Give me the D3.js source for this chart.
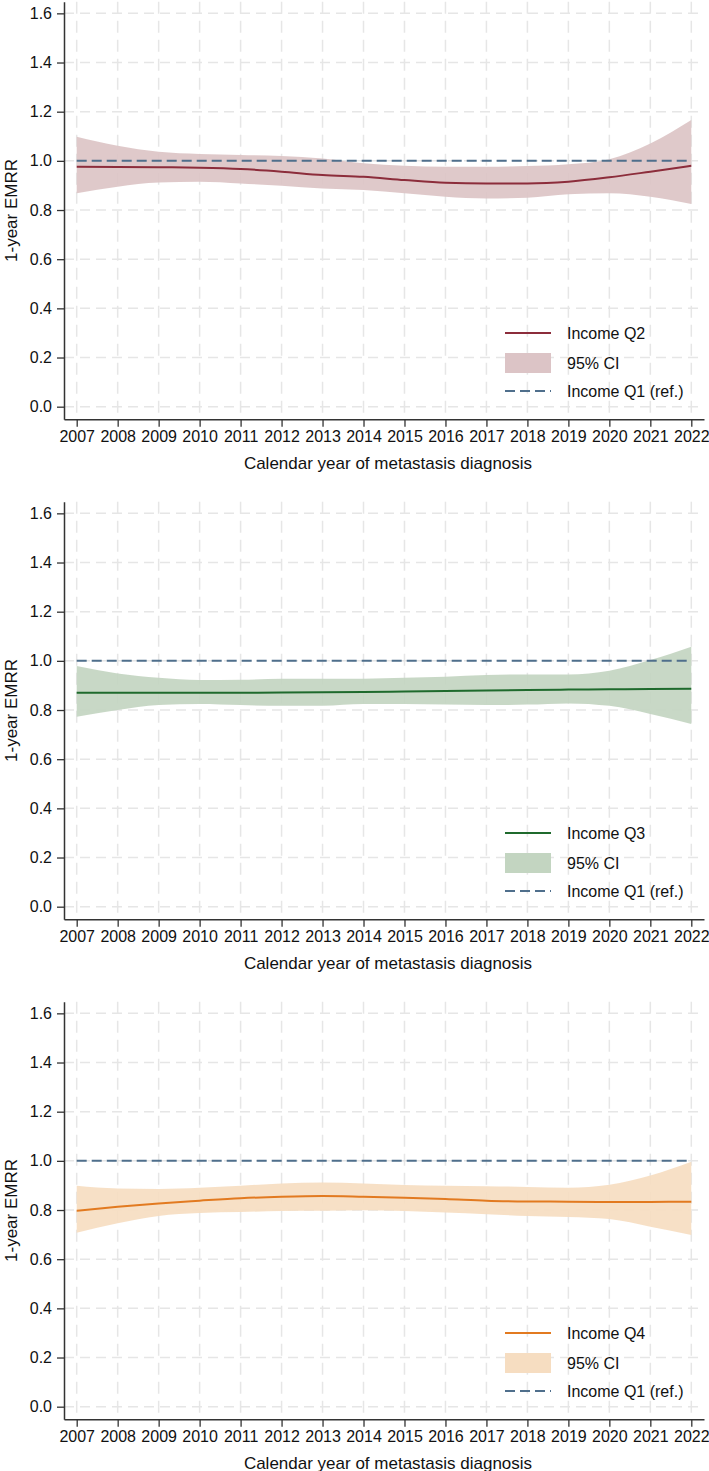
<!DOCTYPE html>
<html>
<head>
<meta charset="utf-8">
<script src="https://cdn.jsdelivr.net/npm/d3@7"></script>
<style>
  html, body { margin: 0; padding: 0; background: #fff; }
  svg { display: block; font-family: "Liberation Sans", Arial, sans-serif; }
</style>
</head>
<body>
<svg id="chart" width="709" height="1471"></svg>
<script>
// ---- Data ----
const years = [2007, 2008, 2009, 2010, 2011, 2012, 2013, 2014, 2015, 2016, 2017, 2018, 2019, 2020, 2021, 2022];
const yTicks = [0, 0.2, 0.4, 0.6, 0.8, 1.0, 1.2, 1.4, 1.6];
const refValue = 1.0;

const q2Est = [0.976, 0.975, 0.974, 0.972, 0.967, 0.956, 0.942, 0.935, 0.922, 0.911, 0.908, 0.908, 0.915, 0.933, 0.956, 0.980];
const q2Lo  = [0.868, 0.895, 0.912, 0.915, 0.908, 0.899, 0.888, 0.881, 0.868, 0.854, 0.847, 0.850, 0.864, 0.868, 0.854, 0.824];
const q2Hi  = [1.098, 1.061, 1.037, 1.028, 1.024, 1.020, 1.010, 0.990, 0.980, 0.976, 0.976, 0.979, 0.986, 1.007, 1.071, 1.166];

const q3Est = [0.870, 0.870, 0.870, 0.870, 0.870, 0.871, 0.872, 0.873, 0.875, 0.877, 0.879, 0.881, 0.883, 0.884, 0.886, 0.887];
const q3Lo  = [0.773, 0.800, 0.820, 0.824, 0.820, 0.817, 0.817, 0.824, 0.824, 0.822, 0.820, 0.822, 0.827, 0.817, 0.784, 0.743];
const q3Hi  = [0.979, 0.949, 0.931, 0.922, 0.923, 0.927, 0.927, 0.927, 0.931, 0.935, 0.942, 0.945, 0.945, 0.960, 1.003, 1.057];

const q4Est = [0.797, 0.813, 0.827, 0.838, 0.848, 0.854, 0.857, 0.854, 0.850, 0.845, 0.838, 0.835, 0.834, 0.833, 0.833, 0.834];
const q4Lo  = [0.708, 0.746, 0.776, 0.788, 0.792, 0.796, 0.797, 0.799, 0.796, 0.790, 0.783, 0.776, 0.772, 0.763, 0.732, 0.698];
const q4Hi  = [0.899, 0.888, 0.886, 0.891, 0.899, 0.908, 0.912, 0.908, 0.902, 0.899, 0.897, 0.894, 0.891, 0.903, 0.940, 0.996];

const panels = [
  { name: "Income Q2", est: q2Est, lo: q2Lo, hi: q2Hi, line: "#8c2d3b", fill: "#dcc4c6" },
  { name: "Income Q3", est: q3Est, lo: q3Lo, hi: q3Hi, line: "#1f6a2d", fill: "#c3d5c1" },
  { name: "Income Q4", est: q4Est, lo: q4Lo, hi: q4Hi, line: "#e27a20", fill: "#f6ddc1" }
];
const ciLabel = "95% CI";
const refLabel = "Income Q1 (ref.)";
const xTitle = "Calendar year of metastasis diagnosis";
const yTitle = "1-year EMRR";

// ---- Layout ----
const svg = d3.select("#chart");
const panelH = 500;
const plotL = 64, plotR = 704, plotT = 1.7, plotB = 419.3;
const gridColor = "#e6e6e6";
const refColor = "#4f6f8c";
const axisColor = "#333";
const fontSize = 16;

const x = d3.scaleLinear().domain([2006.69, 2022.31]).range([plotL, plotR]);

panels.forEach((p, i) => {
  const off = i * panelH;
  const g = svg.append("g").attr("transform", `translate(0,${off})`);
  const y = d3.scaleLinear().domain([-0.0513, 1.6474]).range([plotB, plotT]);

  // gridlines
  g.append("g").selectAll("line").data(yTicks).join("line")
    .attr("x1", plotL).attr("x2", plotR)
    .attr("y1", d => y(d)).attr("y2", d => y(d))
    .attr("stroke", gridColor).attr("stroke-width", 1.5)
    .attr("stroke-dasharray", "10,6");
  g.append("g").selectAll("line").data(years).join("line")
    .attr("x1", d => x(d)).attr("x2", d => x(d))
    .attr("y1", plotT).attr("y2", plotB)
    .attr("stroke", gridColor).attr("stroke-width", 1.5)
    .attr("stroke-dasharray", "12,7");

  // CI band
  const idx = d3.range(years.length);
  const area = d3.area()
    .x(k => x(years[k])).y0(k => y(p.lo[k])).y1(k => y(p.hi[k]))
    .curve(d3.curveMonotoneX);
  g.append("path").datum(idx).attr("d", area)
    .attr("fill", p.fill).attr("fill-opacity", 0.92);

  // reference line
  g.append("line")
    .attr("x1", x(years[0])).attr("x2", x(years[years.length - 1]))
    .attr("y1", y(refValue)).attr("y2", y(refValue))
    .attr("stroke", refColor).attr("stroke-width", 2)
    .attr("stroke-dasharray", "10,5");

  // estimate line
  const line = d3.line().x(k => x(years[k])).y(k => y(p.est[k])).curve(d3.curveMonotoneX);
  g.append("path").datum(idx).attr("d", line)
    .attr("fill", "none").attr("stroke", p.line).attr("stroke-width", 2);

  // axes
  const yAxis = g.append("g").attr("transform", `translate(${plotL},0)`)
    .call(d3.axisLeft(y).tickValues(yTicks).tickFormat(d3.format(".1f"))
      .tickSize(7).tickSizeOuter(0).tickPadding(5));
  const xAxis = g.append("g").attr("transform", `translate(0,${plotB})`)
    .call(d3.axisBottom(x).tickValues(years).tickFormat(d3.format("d"))
      .tickSize(7.5).tickSizeOuter(0).tickPadding(4));
  [yAxis, xAxis].forEach(a => {
    a.select(".domain").attr("stroke", axisColor).attr("stroke-width", 1.5);
    a.selectAll(".tick line").attr("stroke", axisColor).attr("stroke-width", 1.3);
    a.selectAll(".tick text").attr("fill", "#111").style("font-size", fontSize + "px")
      .style("font-family", '"Liberation Sans", Arial, sans-serif');
  });

  // titles
  g.append("text").attr("x", (plotL + plotR) / 2 + 4).attr("y", 468.5)
    .attr("text-anchor", "middle").attr("fill", "#111")
    .style("font-size", (fontSize + 1) + "px").text(xTitle);
  g.append("text").attr("transform", `translate(17,${(plotT + plotB) / 2}) rotate(-90)`)
    .attr("text-anchor", "middle").attr("fill", "#111")
    .style("font-size", (fontSize + 1) + "px").text(yTitle);

  // legend
  const lx0 = 505, lx1 = 551, tx = 567;
  const lg = g.append("g");
  lg.append("line").attr("x1", lx0).attr("x2", lx1).attr("y1", 333).attr("y2", 333)
    .attr("stroke", p.line).attr("stroke-width", 2);
  lg.append("rect").attr("x", lx0).attr("y", 353).attr("width", lx1 - lx0).attr("height", 20)
    .attr("fill", p.fill);
  lg.append("line").attr("x1", lx0).attr("x2", lx1).attr("y1", 391).attr("y2", 391)
    .attr("stroke", refColor).attr("stroke-width", 2).attr("stroke-dasharray", "10,5");
  [[p.name, 333], [ciLabel, 363], [refLabel, 391]].forEach(([t, yy]) => {
    lg.append("text").attr("x", tx).attr("y", yy).attr("dy", "0.35em")
      .attr("fill", "#111").style("font-size", fontSize + "px").text(t);
  });
});
</script>
</body>
</html>
